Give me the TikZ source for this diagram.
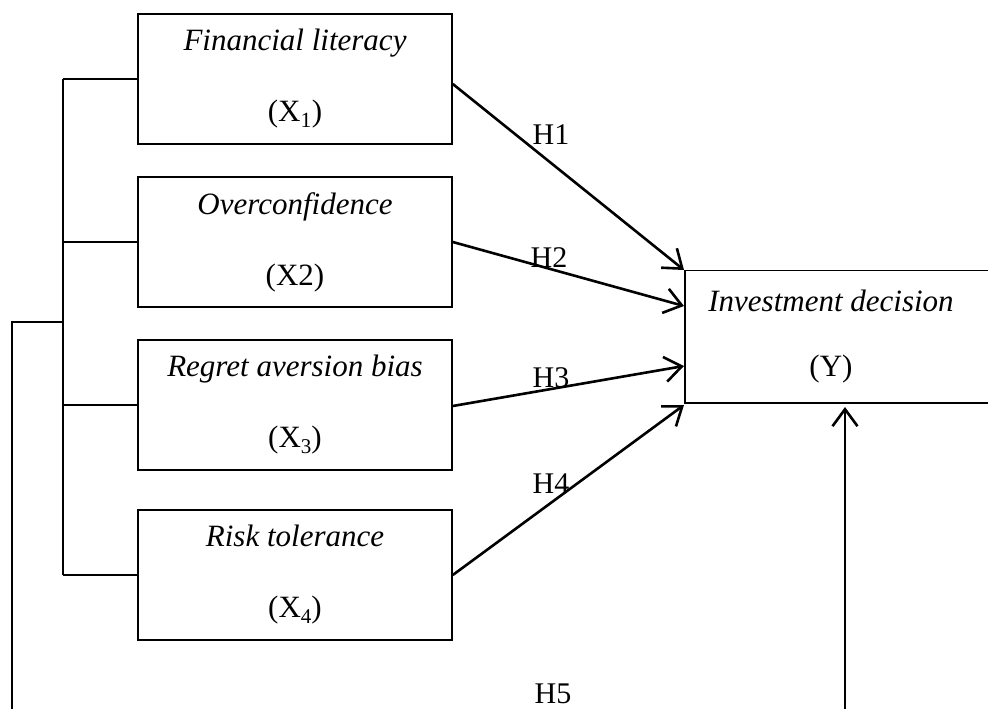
\documentclass[tikz,border=0pt]{standalone}
\usepackage{fontspec}
\setmainfont{Liberation Serif}
\usetikzlibrary{arrows.meta}
\begin{document}
\begin{tikzpicture}[x=1pt,y=-1pt,
  varbox/.style={draw,line width=1.6pt,minimum width=314pt,minimum height=130pt,inner sep=0pt,align=center,font=\fontsize{31}{71}\selectfont},
  ybox/.style={minimum width=292pt,minimum height=132pt,inner sep=0pt,align=center,font=\fontsize{31}{65}\selectfont},
  boxline/.style={line width=1.6pt},
  link/.style={line width=1.8pt},
  hyp/.style={line width=2.6pt,-{Straight Barb[length=17pt,width=25pt,line width=2.6pt]}},
  hlabel/.style={font=\fontsize{30}{34}\selectfont,inner sep=0pt}]
\useasboundingbox (0,0) rectangle (988,709);
\node[varbox] (x1) at (295,79) {\textit{Financial literacy}\\(X\textsubscript{1})};
\node[varbox] (x2) at (295,242) {\textit{Overconfidence}\\(X2)};
\node[varbox] (x3) at (295,405) {\textit{Regret aversion bias}\\(X\raisebox{-0.4ex}{\fontsize{21}{21}\selectfont 3})};
\node[varbox] (x4) at (295,575) {\textit{Risk tolerance}\\(X\raisebox{-0.4ex}{\fontsize{21}{21}\selectfont 4})};
\node[ybox] (y) at (831,336.5) {\textit{Investment decision}\\(Y)};
\draw[boxline] (y.north west) rectangle ([xshift=40pt]y.south east);
\coordinate (b1) at (63,79);
\coordinate (b2) at (63,242);
\coordinate (b3) at (63,405);
\coordinate (b4) at (63,575);
\coordinate (bj) at (63,322);
\coordinate (lt) at (12,322);
\coordinate (lb) at (12,712);
\coordinate (rb) at (845,712);
\coordinate (rt) at (845,407);
\draw[link] (b1) -- (b4);
\draw[link] (b1) -- (x1.west);
\draw[link] (b2) -- (x2.west);
\draw[link] (b3) -- (x3.west);
\draw[link] (b4) -- (x4.west);
\draw[link] (bj) -- (lt) -- (lb);
\coordinate (t1) at (684,270);
\coordinate (t2) at (684,306);
\coordinate (t3) at (684,366);
\coordinate (t4) at (684,405);
\draw[hyp] (x1.east |- 0,84) -- (t1);
\draw[hyp] (x2.east) -- (t2);
\draw[hyp] (x3.east |- 0,406) -- (t3);
\draw[hyp] (x4.east) -- (t4);
\draw[hyp] (rb) -- (rt);
\node[hlabel] (h1) at (551,135) {H1};
\node[hlabel] (h2) at (549,258) {H2};
\node[hlabel] (h3) at (551,378) {H3};
\node[hlabel] (h4) at (551,484) {H4};
\node[hlabel] (h5) at (553,694) {H5};
\end{tikzpicture}
\end{document}
